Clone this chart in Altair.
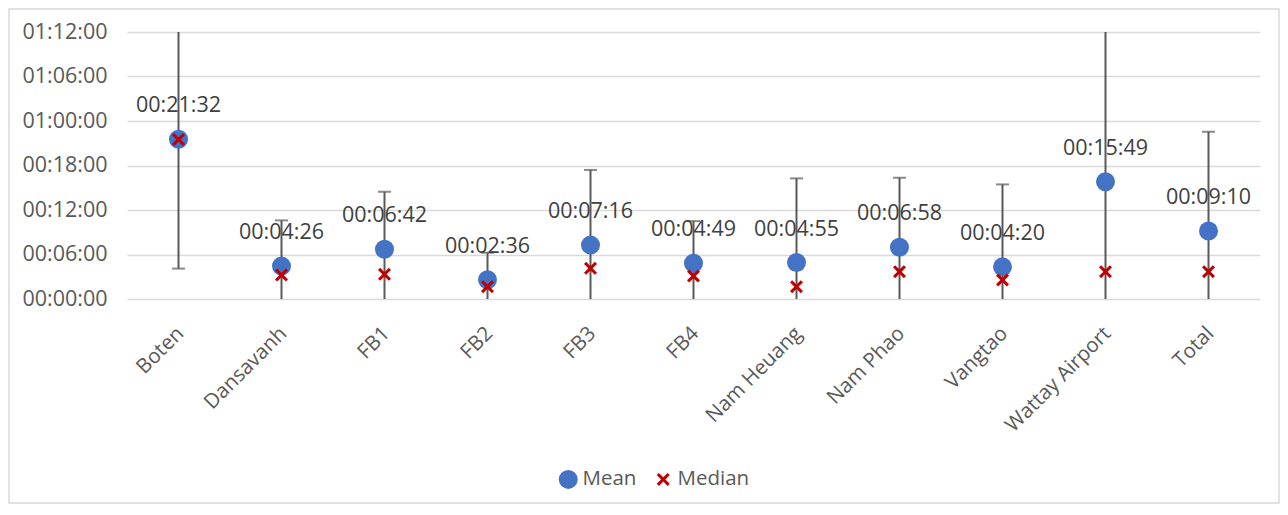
import altair as alt
import pandas as pd

categories = ["Boten", "Dansavanh", "FB1", "FB2", "FB3", "FB4", "Nam Heuang",
              "Nam Phao", "Vangtao", "Wattay Airport", "Total"]
mean_labels = ["00:21:32", "00:04:26", "00:06:42", "00:02:36", "00:07:16", "00:04:49",
               "00:04:55", "00:06:58", "00:04:20", "00:15:49", "00:09:10"]
median_min = [21.5, 3.23, 3.33, 1.66, 4.14, 3.1, 1.66, 3.68, 2.56, 3.68, 3.68]
err_low = [4.1, -1.74, -1.06, -1.04, -2.86, -0.86, -6.42, -2.41, -6.79, -8.4, -4.21]
err_high = [38.96, 10.6, 14.46, 6.24, 17.4, 10.5, 16.26, 16.35, 15.45, 40.0, 22.55]
tick_values = [0, 6, 12, 18, 24, 30, 36]
tick_labels = ["00:00:00", "00:06:00", "00:12:00", "00:18:00", "01:00:00", "01:06:00", "01:12:00"]


def to_min(s):
    h, m, sec = [int(p) for p in s.split(":")]
    return h * 60 + m + sec / 60.0


df = pd.DataFrame({
    "cat": categories,
    "Mean": [to_min(s) for s in mean_labels],
    "Median": median_min,
    "label": mean_labels,
    "lo": err_low,
    "hi": err_high,
})

label_expr = "''"
for v, l in reversed(list(zip(tick_values, tick_labels))):
    label_expr = f"datum.value == {v} ? '{l}' : ({label_expr})"

FONT = "Open Sans"
FS = 21.5
W, H = 1133, 267
PAD = {"left": 119, "top": 24, "right": 20, "bottom": 205}

x_enc = alt.X("cat:N", sort=categories, title=None,
              scale=alt.Scale(paddingInner=0, paddingOuter=0),
              axis=alt.Axis(labelAngle=-45, labelFontSize=FS - 1, labelColor="#595959",
                            labelFont=FONT, domain=False, ticks=False,
                            labelPadding=24, labelOffset=-5))
y_scale = alt.Scale(domain=[0, 36], nice=False, zero=True)
y_axis = alt.Axis(values=tick_values, labelExpr=label_expr, labelFontSize=FS,
                  labelColor="#595959", labelFont=FONT, domain=False, ticks=False,
                  labelPadding=20, grid=True, gridColor="#d9d9d9", gridWidth=1.5)

base = alt.Chart(df)

rules = base.mark_rule(color="#595959", strokeWidth=2, clip=True).encode(
    x=x_enc,
    y=alt.Y("lo:Q", scale=y_scale, axis=y_axis, title=None),
    y2="hi:Q",
)
cap_hi = base.mark_tick(color="#595959", thickness=2, size=13, clip=True).encode(
    x=alt.X("cat:N", sort=categories),
    y=alt.Y("hi:Q"),
)
cap_lo = base.mark_tick(color="#595959", thickness=2, size=13, clip=True).encode(
    x=alt.X("cat:N", sort=categories),
    y=alt.Y("lo:Q"),
)

x_path = "M-0.67,-1L0,-0.33L0.67,-1L1,-0.67L0.33,0L1,0.67L0.67,1L0,0.33L-0.67,1L-1,0.67L-0.33,0L-1,-0.67Z"
series = ["Mean", "Median"]
leg = alt.Legend(title=None, orient="none", legendX=431, legendY=437,
                 direction="horizontal", labelFontSize=FS - 1,
                 labelColor="#595959", labelFont=FONT,
                 symbolSize=196, columnPadding=16, labelOffset=4,
                 padding=0, symbolStrokeWidth=0)
points = base.transform_fold(series, as_=["series", "value"]).mark_point(
    filled=True, opacity=1, strokeWidth=0
).encode(
    x=alt.X("cat:N", sort=categories),
    y=alt.Y("value:Q"),
    color=alt.Color("series:N", scale=alt.Scale(domain=series, range=["#4472C4", "#C00000"]),
                    legend=leg),
    shape=alt.Shape("series:N", scale=alt.Scale(domain=series, range=["circle", x_path]),
                    legend=leg),
    size=alt.Size("series:N", scale=alt.Scale(domain=series, range=[361, 169]), legend=None),
)

texts = base.mark_text(dy=-33, fontSize=FS, color="#404040", font=FONT, baseline="middle").encode(
    x=alt.X("cat:N", sort=categories),
    y=alt.Y("Mean:Q"),
    text="label:N",
)

border = alt.Chart(alt.Data(values=[{"a": 1}])).mark_rect(
    fill="transparent", stroke="#d9d9d9", strokeWidth=1.5
).encode(
    x=alt.value(-PAD["left"] + 1),
    x2=alt.value(W + PAD["right"] - 1),
    y=alt.value(-PAD["top"] + 1),
    y2=alt.value(H + PAD["bottom"] - 1),
)

chart = alt.layer(border, rules, cap_hi, cap_lo, points, texts).properties(
    width=W, height=H,
    autosize=alt.AutoSizeParams(type="none"),
    padding=PAD,
    background="white",
).configure_view(stroke=None, strokeWidth=0)

chart.save("out.html", embed_options={"renderer": "svg", "actions": False})
